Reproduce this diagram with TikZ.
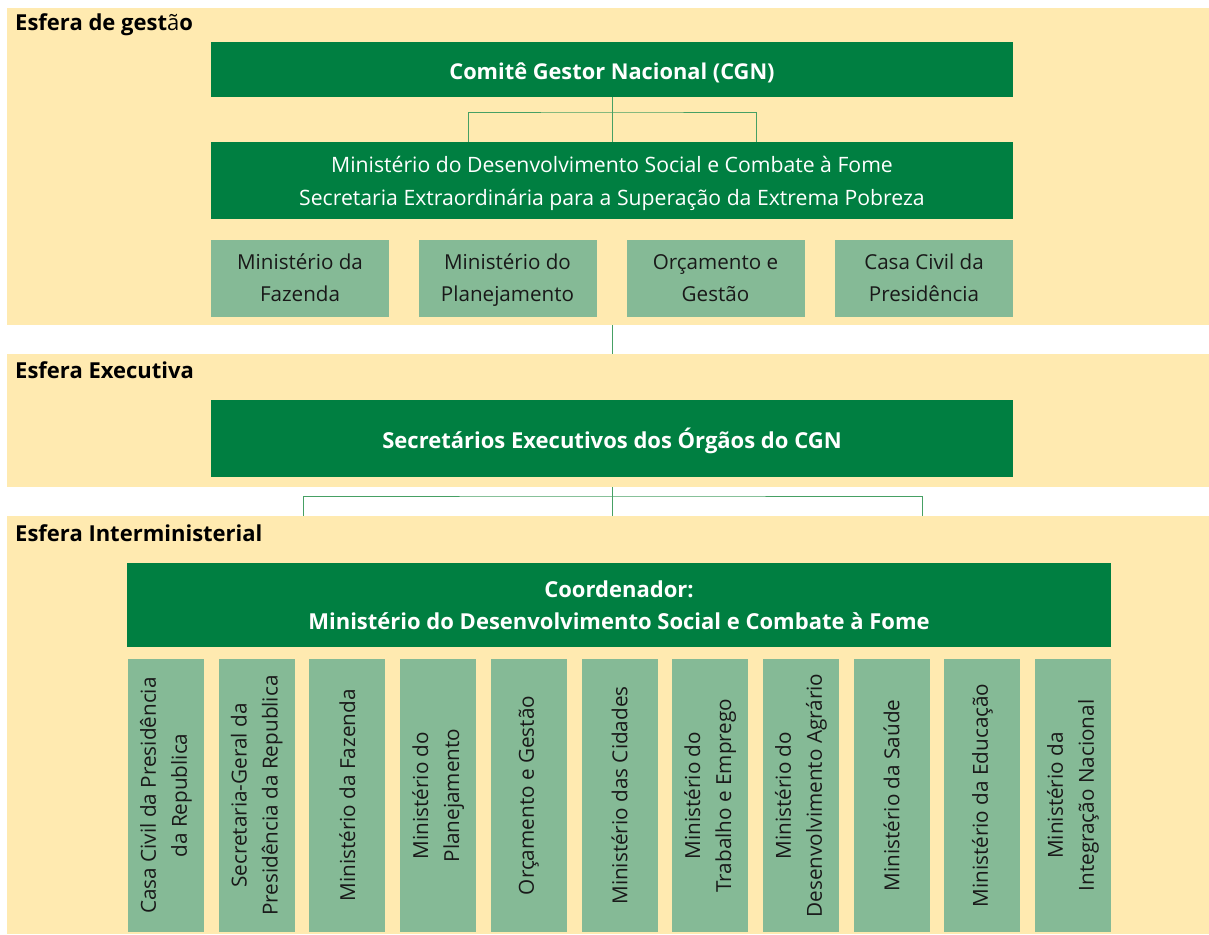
\documentclass[tikz,border=0pt]{standalone}
\usepackage{fontspec}
\setmainfont{Open Sans}
\definecolor{bandc}{RGB}{255,234,176}
\definecolor{dgreen}{RGB}{0,127,65}
\definecolor{lgreen}{RGB}{133,186,150}
\definecolor{linec}{RGB}{70,160,100}
\definecolor{dtext}{RGB}{25,25,25}
\pgfdeclarelayer{under}
\pgfdeclarelayer{bands}
\pgfsetlayers{under,bands,main}
\newcommand{\lowr}[2]{\raisebox{-#1}[\height][\depth]{#2}}
\tikzset{
  bandbox/.style={fill=bandc, draw=none},
  darkbox/.style={fill=dgreen, draw=none, text=white, align=center, inner sep=0pt, font=\fontsize{21.2}{33}\selectfont},
  lightbox/.style={fill=lgreen, draw=none, text=dtext, align=center, inner sep=0pt, minimum width=178pt, minimum height=77pt, font=\fontsize{20.6}{32}\selectfont},
  vbox/.style={fill=lgreen, draw=none, text=dtext, align=center, inner sep=0pt, rotate=90, minimum width=273pt, minimum height=76pt, font=\fontsize{20.7}{31}\selectfont},
  header/.style={anchor=base west, inner sep=0pt, font=\bfseries\fontsize{22}{26}\selectfont},
  conn/.style={draw=linec, line width=0.9pt},
}
\begin{document}
\begin{tikzpicture}[x=1pt,y=-1pt]
\useasboundingbox (0,0) rectangle (1209,934);
\begin{pgfonlayer}{bands}
\fill[bandbox] (7,8) rectangle (1209,325);
\fill[bandbox] (7,354) rectangle (1209,487);
\fill[bandbox] (7,516) rectangle (1209,934);
\end{pgfonlayer}
% headers
\node[header] (h1) at (15,31) {Esfera de gest{\fontseries{m}\selectfont ã}o};
\node[header] (h2) at (15,378) {Esfera Executiva};
\node[header] (h3) at (15,541) {Esfera Interministerial};
% management sphere
\node[darkbox, minimum width=802pt, minimum height=55pt, font=\bfseries\fontsize{21.8}{26}\selectfont] (cgn) at (612,69.5) {\lowr{3pt}{Comitê Gestor Nacional (CGN)}};
\node[darkbox, minimum width=802pt, minimum height=77pt] (mds) at (612,180.5) {\lowr{2pt}{\begin{tabular}{@{}c@{}}Ministério do Desenvolvimento Social e Combate à Fome\\Secretaria Extraordinária para a Superação da Extrema Pobreza\end{tabular}}};
\node[lightbox] (m1) at (300,278.5) {\lowr{1pt}{\begin{tabular}{@{}c@{}}Ministério da\\Fazenda\end{tabular}}};
\node[lightbox] (m2) at (507.5,278.5) {\lowr{1pt}{\begin{tabular}{@{}c@{}}Ministério do\\Planejamento\end{tabular}}};
\node[lightbox] (m3) at (715.5,278.5) {\lowr{1pt}{\begin{tabular}{@{}c@{}}Orçamento e\\Gestão\end{tabular}}};
\node[lightbox] (m4) at (924,278.5) {\lowr{1pt}{\begin{tabular}{@{}c@{}}Casa Civil da\\Presidência\end{tabular}}};
% connectors top
\coordinate (hub1) at (612,112);
\coordinate (l1) at (468,142);
\coordinate (r1) at (756,142);
\draw[conn] (cgn.south) -- (mds.north);
\draw[conn] (l1) |- (hub1) -| (r1);
% executive sphere
\node[darkbox, minimum width=802pt, minimum height=77pt, font=\bfseries\fontsize{22}{26}\selectfont] (sec) at (612,438.5) {\lowr{2pt}{Secretários Executivos dos Órgãos do CGN}};
% interministerial
\node[darkbox, minimum width=984pt, minimum height=84pt, font=\bfseries\fontsize{22}{32}\selectfont] (coord) at (619,605) {\lowr{2.5pt}{\begin{tabular}{@{}c@{}}Coordenador:\\Ministério do Desenvolvimento Social e Combate à Fome\end{tabular}}};
\foreach \i/\t in {0/{Casa Civil da Presidência\\da Republica},
                   1/{Secretaria-Geral da\\Presidência da Republica},
                   2/{Ministério da Fazenda},
                   3/{Ministério do\\Planejamento},
                   4/{Orçamento e Gestão},
                   5/{Ministério das Cidades},
                   6/{Ministério do\\Trabalho e Emprego},
                   7/{Ministério do\\Desenvolvimento Agrário},
                   8/{Ministério da Saúde},
                   9/{Ministério da Educação},
                   10/{Ministério da\\Integração Nacional}}{
  \node[vbox] (v\i) at (166+\i*90.7,795.5) {\t};
}
% inter-sphere connectors (behind bands)
\begin{pgfonlayer}{under}
\draw[conn] (mds.south) -- (sec.north);
\coordinate (hub2) at (612,496);
\coordinate (l2) at (303,563);
\coordinate (r2) at (922,563);
\draw[conn] (sec.south) -- (sec.south |- coord.north);
\draw[conn] (l2) |- (hub2) -| (r2);
\end{pgfonlayer}
\end{tikzpicture}
\end{document}
